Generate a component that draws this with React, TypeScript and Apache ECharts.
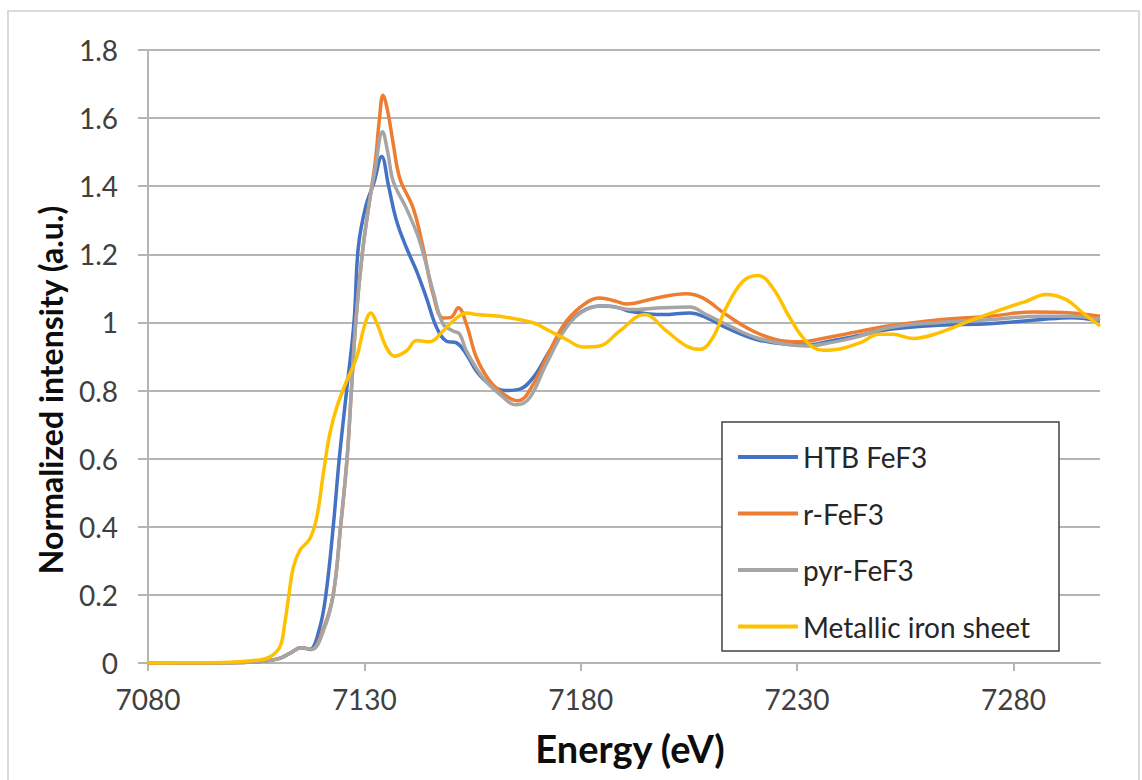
import React, { useEffect, useRef } from "react";
import * as echarts from "echarts";

// ---------- data (energy in eV, normalized intensity) ----------
const seriesNames = ["HTB FeF3", "r-FeF3", "pyr-FeF3", "Metallic iron sheet"];
const xTickValues = [7080, 7130, 7180, 7230, 7280];

const htbEnergy = [7080, 7095, 7104, 7110, 7113, 7115.2, 7117.4, 7119.6, 7121.1, 7122.8, 7124.2, 7125.9, 7127.6, 7128.6, 7130.3, 7132.2, 7134, 7135.6, 7137.4, 7139.7, 7142.1, 7144.4, 7146.7, 7149, 7151.3, 7153.6, 7155.9, 7159, 7162.8, 7165.9, 7169, 7172.8, 7176.7, 7180, 7184.4, 7188.2, 7191.3, 7199, 7205.2, 7209, 7214.4, 7220.6, 7227.5, 7232.1, 7237.5, 7243.7, 7251.4, 7262.9, 7274.5, 7286, 7293.5, 7300];
const htbValue = [0, 0, 0.003, 0.012, 0.03, 0.045, 0.04, 0.1, 0.2, 0.4, 0.6, 0.8, 1.0, 1.22, 1.34, 1.41, 1.487, 1.4, 1.3, 1.22, 1.15, 1.07, 0.985, 0.945, 0.94, 0.906, 0.857, 0.818, 0.8, 0.804, 0.838, 0.916, 0.99, 1.03, 1.048, 1.045, 1.033, 1.023, 1.028, 1.014, 0.98, 0.95, 0.936, 0.934, 0.945, 0.96, 0.98, 0.992, 0.996, 1.008, 1.014, 1.004];

const rEnergy = [7080, 7095, 7104, 7110, 7113, 7115.5, 7117.8, 7120.5, 7122.8, 7124.5, 7126, 7127, 7128, 7129.5, 7131, 7132.5, 7133.5, 7134.3, 7135.4, 7136.6, 7138.2, 7141.3, 7143.6, 7145.9, 7148.2, 7150, 7151.7, 7153.6, 7155.9, 7159, 7162.8, 7165.5, 7169, 7172.8, 7176.7, 7181.3, 7184.4, 7188.2, 7190.5, 7197.5, 7204.4, 7208.2, 7213.6, 7219.8, 7226, 7230.6, 7236.8, 7243.7, 7251.4, 7262.9, 7274.5, 7284.5, 7293.5, 7300];
const rValue = [0, 0, 0.003, 0.012, 0.03, 0.045, 0.04, 0.1, 0.2, 0.4, 0.6, 0.8, 1.0, 1.2, 1.34, 1.47, 1.6, 1.667, 1.62, 1.53, 1.423, 1.335, 1.218, 1.082, 1.013, 1.015, 1.043, 0.994, 0.897, 0.828, 0.784, 0.77, 0.818, 0.916, 1.004, 1.058, 1.072, 1.062, 1.054, 1.072, 1.084, 1.072, 1.023, 0.975, 0.947, 0.943, 0.955, 0.972, 0.99, 1.008, 1.018, 1.031, 1.028, 1.018];

const pyrEnergy = [7080, 7095, 7104, 7110, 7113, 7115.5, 7117.8, 7120.7, 7122.8, 7124.5, 7126, 7127, 7128, 7129.5, 7131, 7132.5, 7134.2, 7135.4, 7136.7, 7139.7, 7142.8, 7145.9, 7148.2, 7150.5, 7152, 7153.6, 7157.4, 7161.3, 7165.1, 7168.2, 7172, 7176.7, 7181.3, 7185.9, 7191.3, 7199, 7205.2, 7209, 7214.4, 7220.6, 7227.5, 7232.1, 7237.5, 7243.7, 7251.4, 7262.9, 7274.5, 7286, 7293.5, 7300];
const pyrValue = [0, 0, 0.003, 0.012, 0.03, 0.045, 0.04, 0.1, 0.2, 0.4, 0.6, 0.8, 1.0, 1.2, 1.34, 1.45, 1.56, 1.5, 1.413, 1.335, 1.238, 1.09, 0.995, 0.975, 0.966, 0.916, 0.838, 0.789, 0.758, 0.779, 0.877, 0.985, 1.038, 1.048, 1.038, 1.043, 1.045, 1.023, 0.989, 0.955, 0.936, 0.931, 0.94, 0.957, 0.985, 1.0, 1.008, 1.018, 1.018, 1.008];

const feEnergy = [7080, 7095, 7100, 7105, 7108.2, 7110.5, 7111.6, 7112.6, 7113.6, 7115.1, 7117.4, 7119, 7120.5, 7122, 7123.6, 7125.9, 7128.2, 7130.1, 7131.5, 7133, 7135.1, 7137, 7139.7, 7142.1, 7145.1, 7148.2, 7150.5, 7153.6, 7155.9, 7161.3, 7169, 7172.8, 7176.7, 7180.5, 7184.4, 7189, 7194.8, 7199.8, 7204.4, 7207.5, 7210.5, 7213.6, 7217.5, 7221, 7224.4, 7228.3, 7232.1, 7236, 7239.8, 7244.5, 7249, 7252.1, 7256.7, 7262.9, 7270.6, 7278.3, 7282.9, 7287.5, 7292.2, 7296, 7300];
const feValue = [0, 0.001, 0.003, 0.008, 0.018, 0.048, 0.116, 0.204, 0.282, 0.331, 0.365, 0.428, 0.555, 0.672, 0.75, 0.828, 0.897, 0.994, 1.028, 0.994, 0.926, 0.901, 0.916, 0.947, 0.943, 0.975, 1.004, 1.028, 1.023, 1.018, 0.999, 0.975, 0.95, 0.928, 0.931, 0.975, 1.023, 0.975, 0.931, 0.921, 0.955, 1.043, 1.121, 1.138, 1.101, 1.014, 0.945, 0.918, 0.922, 0.94, 0.965, 0.965, 0.953, 0.97, 1.008, 1.043, 1.062, 1.082, 1.067, 1.028, 0.99];

const seriesColors = ["#4472C4", "#ED7D31", "#A5A5A5", "#FFC000"];

const pairs = (xs: number[], ys: number[]) => xs.map((x, i) => [x, ys[i]]);

export default function App() {
  const ref = useRef<HTMLDivElement>(null);

  useEffect(() => {
    if (!ref.current) return;
    const chart = echarts.init(ref.current, null, { renderer: "svg" });
    const font = "Lato, 'Open Sans', sans-serif";
    const gridColor = "#B5B5B5";
    const datasets = [
      pairs(htbEnergy, htbValue),
      pairs(rEnergy, rValue),
      pairs(pyrEnergy, pyrValue),
      pairs(feEnergy, feValue),
    ];

    chart.setOption({
      animation: false,
      backgroundColor: "#ffffff",
      grid: { left: 148, right: 42, top: 50, bottom: 117, containLabel: false },
      xAxis: {
        type: "value",
        min: 7080,
        max: 7300,
        axisLine: { show: true, lineStyle: { color: gridColor, width: 2 } },
        axisTick: {
          show: true,
          length: 8,
          customValues: xTickValues,
          lineStyle: { color: gridColor, width: 2 },
        },
        axisLabel: {
          customValues: xTickValues,
          formatter: (v: number) => String(v),
          fontSize: 28,
          fontFamily: font,
          color: "#404040",
          margin: 22,
        },
        splitLine: { show: false },
      },
      yAxis: {
        type: "value",
        min: 0,
        max: 1.8,
        interval: 0.2,
        axisLine: { show: true, lineStyle: { color: gridColor, width: 2 } },
        axisTick: { show: true, length: 10, lineStyle: { color: gridColor, width: 2 } },
        axisLabel: {
          fontSize: 28,
          fontFamily: font,
          color: "#404040",
          margin: 30,
        },
        splitLine: { show: true, lineStyle: { color: gridColor, width: 2 } },
      },
      legend: {
        orient: "vertical",
        left: 733,
        top: 437,
        icon: "rect",
        itemWidth: 60,
        itemHeight: 4,
        itemGap: 26.5,
        selectedMode: false,
        z: 20,
        textStyle: {
          fontSize: 28,
          lineHeight: 30,
          fontFamily: font,
          color: "#262626",
          padding: [0, 0, 0, 0],
        },
        data: seriesNames,
      },
      graphic: [
        {
          type: "rect",
          z: -10,
          silent: true,
          shape: { x: 8, y: 11, width: 1131, height: 800 },
          style: { fill: "none", stroke: "#D0D0D0", lineWidth: 1.5 },
        },
        {
          type: "rect",
          z: 15,
          silent: true,
          shape: { x: 722, y: 422, width: 337, height: 229 },
          style: { fill: "#ffffff", stroke: "#404040", lineWidth: 1.5 },
        },
        {
          type: "text",
          x: 50,
          y: 390,
          rotation: Math.PI / 2,
          style: {
            text: "Normalized intensity (a.u.)",
            font: `bold 32px ${font}`,
            fill: "#0d0d0d",
            textAlign: "center",
            textVerticalAlign: "middle",
          },
        },
        {
          type: "text",
          x: 630,
          y: 748,
          style: {
            text: "Energy (eV)",
            font: `bold 38px ${font}`,
            fill: "#0d0d0d",
            textAlign: "center",
            textVerticalAlign: "middle",
          },
        },
      ],
      series: seriesNames.map((name, i) => ({
        name,
        type: "line",
        data: datasets[i],
        symbol: "none",
        showSymbol: false,
        smooth: 0.4,
        lineStyle: { color: seriesColors[i], width: 3.5 },
        itemStyle: { color: seriesColors[i] },
        z: 2 + i * 0.1,
      })),
    });

    return () => chart.dispose();
  }, []);

  return (
    <div
      ref={ref}
      style={{ position: "fixed", left: 0, top: 0, width: 1142, height: 780 }}
    />
  );
}
